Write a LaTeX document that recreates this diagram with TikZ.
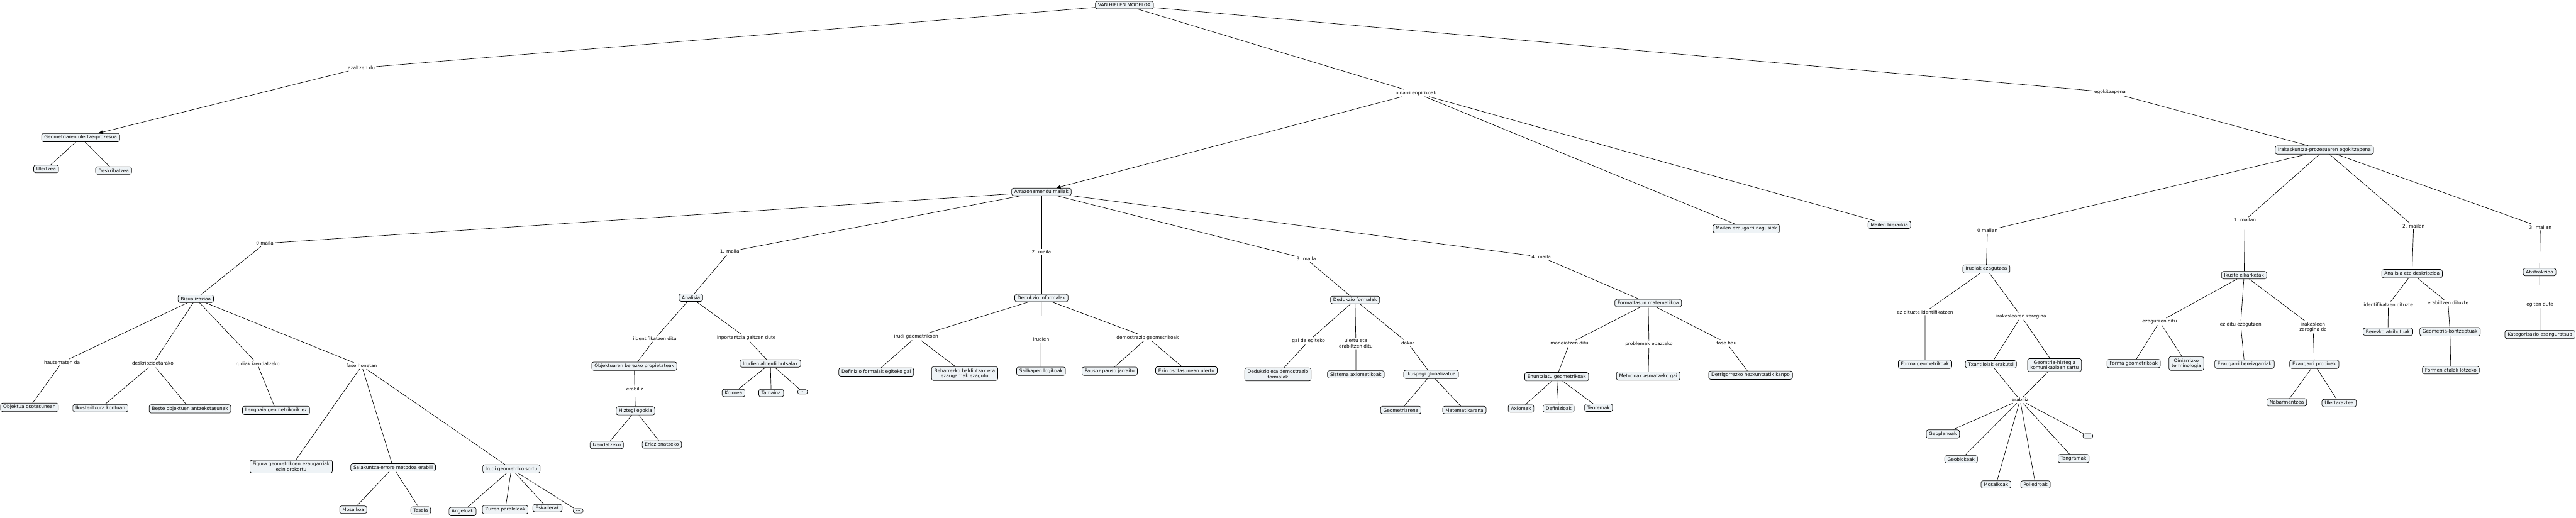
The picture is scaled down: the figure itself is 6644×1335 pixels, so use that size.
\documentclass[tikz,border=0pt]{standalone}
\usepackage{fontspec}
\setmainfont{DejaVu Sans}
\usetikzlibrary{arrows.meta}
\definecolor{boxfill}{RGB}{238,243,246}

\begin{document}
\begin{tikzpicture}[x=1pt,y=-1pt,line width=1.1pt,
  every node/.style={font=\fontsize{12}{14}\selectfont},
  concept/.style={draw,rounded corners=5pt,fill=boxfill,inner xsep=7pt,inner ysep=5pt,align=center},
  linkword/.style={inner sep=3pt,align=center},
  tip/.style={-{Triangle[length=11pt,width=9pt]}}]
\useasboundingbox (0,0) rectangle (6644,1335);
% top of the map
\node[concept] (root) at (2900,13) {VAN HIELEN MODELOA};
\node[linkword] (whatfor) at (932,175) {azaltzen du}; \node[linkword] (bases) at (3652,240) {oinarri enpirikoak}; \node[linkword] (adapt) at (5442,238) {egokitzapena};
\node[concept] (process) at (208,355) {Geometriaren ulertze-prozesua};
\node[concept] (ulertzea) at (119,436) {Ulertzea}; \node[concept] (deskrib) at (293,440) {Deskribatzea};
\node[concept] (levels) at (2686,495) {Arrazonamendu mailak};
\node[concept] (modelc) at (4504,590) {Mailen ezaugarri nagusiak};
\node[concept] (modeld) at (4873,580) {Mailen hierarkia};
\node[concept] (teach) at (5995,387) {Irakaskuntza-prozesuaren egokitzapena};
\draw (root) -- (whatfor); \draw[tip] (whatfor) -- (process);
\draw (process) -- (ulertzea); \draw (process) -- (deskrib);
\draw (root) -- (bases); \draw[tip] (bases) -- (levels); \draw (bases) -- (modelc); \draw (bases) -- (modeld);
\draw (root) -- (adapt) -- (teach);
% mailak
\node[linkword] (m0) at (683,628) {0 maila}; \node[linkword] (m1) at (1882,649) {1. maila};
\node[linkword] (m2) at (2686,650) {2. maila}; \node[linkword] (m3) at (3369,668) {3. maila};
\node[linkword] (m4) at (3975,663) {4. maila};
% 0 maila
\node[concept] (bisual) at (505,771) {Bisualizazioa};
\node[linkword] (perceive) at (160,935) {hautematen da}; \node[linkword] (describe) at (394,939) {deskripzioetarako};
\node[linkword] (naming) at (663,938) {irudiak izendatzeko}; \node[linkword] (phase) at (933,944) {fase honetan};
\node[concept] (whole) at (76,1051) {Objektua osotasunean};
\node[concept] (look) at (259,1053) {Ikuste-itxura kontuan};
\node[concept] (similar) at (490,1055) {Beste objektuen antzekotasunak};
\node[concept] (nolang) at (712,1059) {Lengoaia geometrikorik ez};
\node[concept] (nogen) at (751,1204) {Figura geometrikoen ezaugarriak\\ezin orokortu};
\node[concept] (trial) at (1014,1206) {Saiakuntza-errore metodoa erabili};
\node[concept] (create) at (1319,1210) {Irudi geometriko sortu};
\node[concept] (mosaic) at (911,1315) {Mosaikoa}; \node[concept] (tesela) at (1085,1317) {Tesela};
\node[concept] (angle) at (1193,1320) {Angeluak}; \node[concept] (parallel) at (1303,1315) {Zuzen paraleloak};
\node[concept] (stairs) at (1412,1311) {Eskailerak}; \node[concept] (etc0) at (1491,1318) {...};
\draw (levels) -- (m0) -- (bisual);
\draw (bisual) -- (perceive) -- (whole);
\draw (bisual) -- (describe) -- (look); \draw (describe) -- (similar);
\draw (bisual) -- (naming) -- (nolang);
\draw (bisual) -- (phase); \draw (phase) -- (nogen); \draw (phase) -- (trial); \draw (phase) -- (create);
\draw (trial) -- (mosaic); \draw (trial) -- (tesela);
\foreach \leaf in {angle,parallel,stairs,etc0} \draw (create) -- (\leaf);
% 1. maila
\node[concept] (analysis) at (1782,768) {Analisia};
\node[linkword] (identif) at (1689,874) {iidentifikatzen ditu}; \node[linkword] (lose) at (1925,872) {inportantzia galtzen dute};
\node[concept] (props) at (1636,945) {Objektuaren berezko propietateak};
\node[linkword] (using1) at (1637,1004) {erabiliz};
\node[concept] (vocab) at (1639,1060) {Hiztegi egokia};
\node[concept] (toname) at (1565,1148) {Izendatzeko}; \node[concept] (torelate) at (1707,1147) {Erlazionatzeko};
\node[concept] (trivial) at (1987,938) {Irudien alderdi hutsalak};
\node[concept] (colour) at (1892,1014) {Kolorea}; \node[concept] (size) at (1989,1014) {Tamaina}; \node[concept] (etc1) at (2070,1011) {...};
\draw (levels) -- (m1) -- (analysis);
\draw (analysis) -- (identif) -- (props) -- (using1) -- (vocab);
\draw (vocab) -- (toname); \draw (vocab) -- (torelate);
\draw (analysis) -- (lose) -- (trivial);
\foreach \leaf in {colour,size,etc1} \draw (trivial) -- (\leaf);
% 2. maila
\node[concept] (informal) at (2686,769) {Dedukzio informalak};
\node[linkword] (figs) at (2363,869) {irudi geometrikoen}; \node[linkword] (ofigs) at (2685,876) {irudien};
\node[linkword] (proofs) at (2960,871) {demostrazio geometrikoak};
\node[concept] (defs) at (2260,960) {Definizio formalak egiteko gai};
\node[concept] (conds) at (2488,964) {Beharrezko baldintzak eta\\ezaugarriak ezagutu};
\node[concept] (classes) at (2685,958) {Sailkapen logikoak};
\node[concept] (steps) at (2862,958) {Pausoz pauso jarraitu};
\node[concept] (notwhole) at (3060,956) {Ezin osotasunean ulertu};
\draw (levels) -- (m2) -- (informal);
\draw (informal) -- (figs); \draw (figs) -- (defs); \draw (figs) -- (conds);
\draw (informal) -- (ofigs) -- (classes);
\draw (informal) -- (proofs); \draw (proofs) -- (steps); \draw (proofs) -- (notwhole);
% 3. maila
\node[concept] (formal) at (3495,774) {Dedukzio formalak};
\node[linkword] (able) at (3375,880) {gai da egiteko}; \node[linkword] (uses) at (3497,886) {ulertu eta\\erabiltzen ditu};
\node[linkword] (brings) at (3631,885) {dakar};
\node[concept] (fproofs) at (3296,966) {Dedukzio eta demostrazio\\formalak};
\node[concept] (axsys) at (3497,966) {Sistema axiomatikoak};
\node[concept] (global) at (3691,966) {Ikuspegi globalizatua};
\node[concept] (geomof) at (3613,1058) {Geometriarena}; \node[concept] (mathof) at (3777,1058) {Matematikarena};
\draw (levels) -- (m3) -- (formal);
\draw (formal) -- (able) -- (fproofs); \draw (formal) -- (uses) -- (axsys);
\draw (formal) -- (brings) -- (global); \draw (global) -- (geomof); \draw (global) -- (mathof);
% 4. maila
\node[concept] (rigor) at (4251,782) {Formaltasun matematikoa};
\node[linkword] (handles) at (4048,886) {maneiatzen ditu}; \node[linkword] (solve) at (4253,888) {problemak ebazteko};
\node[linkword] (thisphase) at (4453,885) {fase hau};
\node[concept] (stmts) at (4015,972) {Enuntziatu geometrikoak};
\node[concept] (methods) at (4251,970) {Metodoak asmatzeko gai};
\node[concept] (outside) at (4515,968) {Derrigorrezko hezkuntzatik kanpo};
\node[concept] (axioms) at (3923,1054) {Axiomak}; \node[concept] (defns) at (4020,1054) {Definizioak}; \node[concept] (theorems) at (4123,1052) {Teoremak};
\draw (levels) -- (m4) -- (rigor);
\draw (rigor) -- (handles) -- (stmts); \draw (rigor) -- (solve) -- (methods); \draw (rigor) -- (thisphase) -- (outside);
\foreach \leaf in {axioms,defns,theorems} \draw (stmts) -- (\leaf);
% irakaskuntza, 0 mailan
\node[linkword] (n0) at (5126,595) {0 mailan};
\node[concept] (recog) at (5123,694) {Irudiak ezagutzea};
\node[linkword] (noident) at (4965,805) {ez dituzte identifikatzen};
\node[linkword] (task0) at (5213,816) {irakaslearen zeregina};
\node[concept] (shapes0) at (4965,940) {Forma geometrikoak};
\node[concept] (templ) at (5135,940) {Txantiloiak erakutsi};
\node[concept] (lexicon) at (5299,942) {Geomtria-hiztegia\\komunikazioan sartu};
\node[linkword] (using2) at (5210,1032) {erabiliz};
\node[concept] (geoplan) at (5011,1120) {Geoplanoak}; \node[concept] (geoblock) at (5058,1185) {Geoblokeak};
\node[concept] (tool3) at (5148,1250) {Mosaikoak}; \node[concept] (tool4) at (5250,1250) {Poliedroak};
\node[concept] (tool5) at (5348,1183) {Tangramak}; \node[concept] (etc2) at (5385,1125) {...};
\draw (teach) -- (n0) -- (recog);
\draw (recog) -- (noident) -- (shapes0);
\draw (recog) -- (task0); \draw (task0) -- (templ); \draw (task0) -- (lexicon);
\draw (templ) -- (using2); \draw (lexicon) -- (using2);
\foreach \leaf in {geoplan,geoblock,tool3,tool4,tool5,etc2} \draw (using2) -- (\leaf);
% 1. mailan
\node[linkword] (n1) at (5790,568) {1. mailan};
\node[concept] (links) at (5788,710) {Ikuste elkarketak};
\node[linkword] (knows) at (5570,830) {ezagutzen ditu}; \node[linkword] (notknow) at (5779,837) {ez ditu ezagutzen};
\node[linkword] (task1) at (5966,844) {irakasleen\\zeregina da};
\node[concept] (shapes1) at (5503,938) {Forma geometrikoak};
\node[concept] (terms) at (5639,938) {Oiniarrizko\\terminologia};
\node[concept] (traits) at (5789,940) {Ezaugarri bereizgarriak};
\node[concept] (own) at (5969,940) {Ezaugarri propioak};
\node[concept] (stress) at (5898,1038) {Nabarmentzea}; \node[concept] (explain) at (6033,1040) {Ulertaraztea};
\draw (teach) -- (n1) -- (links);
\draw (links) -- (knows); \draw (knows) -- (shapes1); \draw (knows) -- (terms);
\draw (links) -- (notknow) -- (traits);
\draw (links) -- (task1) -- (own); \draw (own) -- (stress); \draw (own) -- (explain);
% 2. mailan
\node[linkword] (n2) at (6225,584) {2. mailan};
\node[concept] (anadesc) at (6221,706) {Analisia eta deskripzioa};
\node[linkword] (identify) at (6160,786) {identifikatzen dituzte}; \node[linkword] (employ) at (6314,782) {erabiltzen dituzte};
\node[concept] (attrs) at (6159,856) {Berezko atributuak};
\node[concept] (concepts) at (6319,856) {Geometria-kontzeptuak};
\node[concept] (parts) at (6321,955) {Formen atalak lotzeko};
\draw (teach) -- (n2) -- (anadesc);
\draw (anadesc) -- (identify) -- (attrs); \draw (anadesc) -- (employ) -- (concepts) -- (parts);
% 3. mailan
\node[linkword] (n3) at (6552,586) {3. mailan};
\node[concept] (abstr) at (6550,702) {Abstrakzioa};
\node[linkword] (do) at (6551,786) {egiten dute};
\node[concept] (categ) at (6551,863) {Kategorizazio esanguratsua};
\draw (teach) -- (n3) -- (abstr) -- (do) -- (categ);
\end{tikzpicture}
\end{document}
